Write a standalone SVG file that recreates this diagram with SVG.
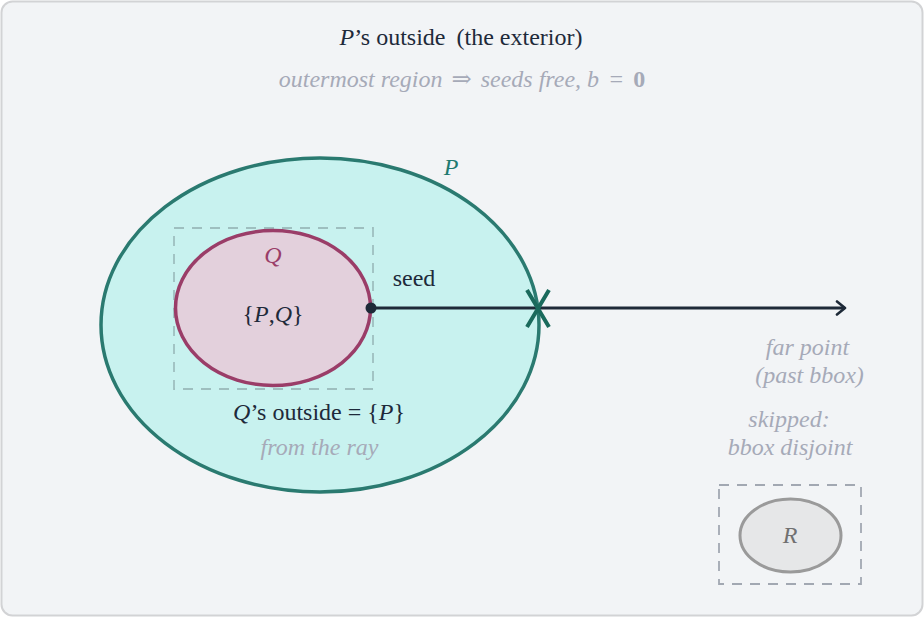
<svg xmlns="http://www.w3.org/2000/svg" width="924" height="617" viewBox="0 0 924 617">
<defs>
<style>
text{font-family:'Liberation Serif','Times New Roman','DejaVu Serif',serif;font-size:24px;text-anchor:middle}
.dark{fill:#1e2a3a}
.note{fill:#a6aab8;font-style:italic}
.it{font-style:italic}
.bbox{fill:none;stroke-width:1.8;stroke-dasharray:10 8}
</style>
<marker id="arr" viewBox="0 0 12 16" refX="10" refY="8" markerWidth="12" markerHeight="16" markerUnits="userSpaceOnUse" orient="auto">
<path d="M2,1.5 L10,8 L2,14.5" fill="none" stroke="#1e2a38" stroke-width="2.6" stroke-linecap="round" stroke-linejoin="round"/>
</marker>
</defs>
<rect x="1.5" y="1.5" width="921" height="614" rx="11" fill="#f2f4f6" stroke="#d2d3d5" stroke-width="2"/>
<g id="title">
<text x="461" y="44.5" class="dark"><tspan class="it">P</tspan>’s outside <tspan dx="5">(the exterior)</tspan></text>
<text x="462" y="87" class="note">outermost region <tspan dx="3">⇒</tspan><tspan dx="3"> seeds free, b</tspan><tspan dx="3"> =</tspan><tspan dx="3" font-weight="bold" font-style="normal"> 0</tspan></text>
</g>
<g id="P">
<ellipse cx="320" cy="325" rx="219" ry="167" fill="#c8f2ef" stroke="#2a7a70" stroke-width="3.5"/>
<text x="451" y="175" class="it" fill="#1f7a70">P</text>
</g>
<g id="Q">
<rect x="174" y="228" width="199" height="161" class="bbox" stroke="#9ebfbf"/>
<ellipse cx="273" cy="308" rx="97.5" ry="77.5" fill="#e3d0dc" stroke="#9a3d68" stroke-width="3.5"/>
<text x="273" y="263" class="it" fill="#9a3d68">Q</text>
<text x="273" y="321.5" class="dark">{<tspan class="it">P</tspan>,<tspan class="it">Q</tspan>}</text>
<text x="319" y="420" class="dark"><tspan class="it">Q</tspan>’s outside = {<tspan class="it">P</tspan>}</text>
<text x="319.5" y="455" class="note">from the ray</text>
</g>
<g id="R">
<rect x="719" y="485" width="142" height="99" class="bbox" stroke="#a2a8b2"/>
<ellipse cx="790.5" cy="535.5" rx="50.5" ry="36.5" fill="#e6e7e8" stroke="#9a9a9a" stroke-width="3"/>
<text x="790" y="543" class="it" fill="#707070">R</text>
<text x="789" y="427" class="note">skipped:</text>
<text x="790" y="455" class="note">bbox disjoint</text>
</g>
<g id="connectors">
<line x1="371" y1="308" x2="845" y2="308" stroke="#1e2a38" stroke-width="3" marker-end="url(#arr)"/>
<circle cx="371" cy="308" r="5.5" fill="#1e2a38"/>
<path d="M527,290 L549,327 M549,290 L527,327" stroke="#1a6a5c" stroke-width="4" stroke-linecap="butt"/>
<text x="414" y="286" class="dark">seed</text>
<text x="807.5" y="355" class="note">far point</text>
<text x="809.5" y="383" class="note">(past bbox)</text>
</g>
</svg>
